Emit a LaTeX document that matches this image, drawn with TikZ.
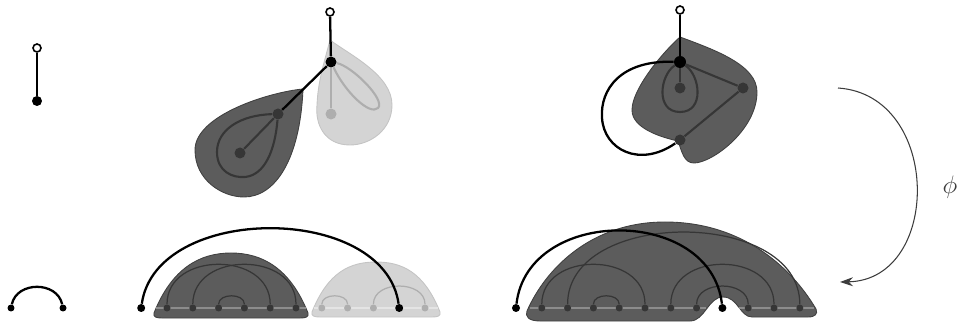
\documentclass[tikz,border=0pt]{standalone}
\usepackage{tikz}
\usetikzlibrary{arrows.meta}
\definecolor{blobdark}{RGB}{92,92,92}
\definecolor{blobdarkrim}{RGB}{64,64,64}
\definecolor{inkdark}{RGB}{54,54,54}
\definecolor{bloblight}{RGB}{212,212,212}
\definecolor{bloblightrim}{RGB}{196,196,196}
\definecolor{inklight}{RGB}{174,174,174}
\definecolor{rimdark}{RGB}{140,140,140}
\definecolor{rimlight}{RGB}{228,228,228}
\definecolor{mapgray}{RGB}{60,60,60}
\tikzset{
  root/.style={circle,draw=black,fill=white,line width=0.9pt,inner sep=0pt,minimum size=0.16cm},
  bigdot/.style={circle,fill=black,inner sep=0pt,minimum size=0.22cm},
  darkdot/.style={circle,fill=inkdark,inner sep=0pt,minimum size=0.22cm},
  lightdot/.style={circle,fill=inklight,inner sep=0pt,minimum size=0.22cm},
  seqdot/.style={circle,fill=inkdark,inner sep=0pt,minimum size=0.14cm},
  seqlight/.style={circle,fill=inklight,inner sep=0pt,minimum size=0.14cm},
  seqblack/.style={circle,fill=black,inner sep=0pt,minimum size=0.16cm},
  darkblob/.style={fill=blobdark,draw=blobdarkrim,line width=0.5pt},
  lightblob/.style={fill=bloblight,draw=bloblightrim,line width=0.5pt},
  stem/.style={black,line width=1.3pt},
  darkedge/.style={inkdark,line width=1.2pt},
  lightedge/.style={inklight,line width=1.2pt},
  darkarc/.style={inkdark,line width=0.7pt},
  lightarc/.style={inklight,line width=0.7pt},
  mapto/.style={-{Stealth[length=2.6mm,width=1.8mm]},mapgray,line width=0.6pt}
}
\begin{document}
\begin{tikzpicture}[x=0.02cm,y=-0.02cm]
  \useasboundingbox (0,0) rectangle (959,327);

  % single edge
  \node[root] (r0) at (37,48) {};
  \node[bigdot, minimum size=0.2cm] (v0) at (37,101) {};
  \draw[stem] (r0) -- (v0);

  \node[seqblack, minimum size=0.14cm] (a1) at (11,308) {};
  \node[seqblack, minimum size=0.14cm] (a2) at (63,308) {};
  \draw[stem] (a1) .. controls +(6,-27) and +(-6,-27) .. (a2);

  % two leaves on one vertex
  \draw[lightblob] (330,40) .. controls (350,55) and (392,75) .. (392,105)
    .. controls (392,130) and (370,145) .. (350,145)
    .. controls (325,145) and (315,125) .. (317,105)
    .. controls (318,80) and (325,60) .. (330,40) -- cycle;
  \draw[darkblob] (303,89) .. controls (270,92) and (195,115) .. (195,150)
    .. controls (195,180) and (222,197) .. (244,197)
    .. controls (275,197) and (300,160) .. (303,89) -- cycle;
  \node[root] (r1) at (330,12) {};
  \node[bigdot] (b0) at (331,62) {};
  \node[darkdot] (d1) at (278,114) {};
  \node[darkdot] (d2) at (240,153) {};
  \node[lightdot] (g1) at (331,114) {};
  \draw[stem] (r1) -- (b0);
  \draw[stem] (b0) -- (d1);
  \draw[darkedge] (d1) -- (d2);
  \draw[darkedge] (d1) .. controls (240,115) and (217,130) .. (217,152)
    .. controls (217,172) and (233,178) .. (245,177)
    .. controls (265,175) and (275,150) .. (d1);
  \draw[lightedge] (b0) -- (g1);
  \draw[lightedge] (b0) .. controls (352,66) and (386,100) .. (378,108)
    .. controls (370,116) and (345,92) .. (b0);

  % merged map
  \draw[darkblob] (680,37) .. controls (660,55) and (632,90) .. (632,110)
    .. controls (632,128) and (660,137) .. (678,141)
    .. controls (682,152) and (684,163) .. (694,163)
    .. controls (712,163) and (757,130) .. (757,92)
    .. controls (757,65) and (715,50) .. (680,37) -- cycle;
  \node[root] (r2) at (680,10) {};
  \node[bigdot, minimum size=0.24cm] (c0) at (680,62) {};
  \node[darkdot] (c1) at (680,88) {};
  \node[darkdot] (c2) at (743,88) {};
  \node[darkdot] (c3) at (680,140) {};
  \draw[stem] (r2) -- (c0);
  \draw[darkedge] (c0) -- (c1);
  \draw[darkedge] (c0) -- (c2);
  \draw[darkedge] (c2) -- (c3);
  \draw[darkedge] (c0) .. controls (660,75) and (655,112) .. (680,112)
    .. controls (705,112) and (700,75) .. (c0);
  \draw[stem] (c0) .. controls (620,60) and (600,90) .. (602,118)
    .. controls (604,150) and (640,168) .. (c3);

  % arc diagrams
  \draw[darkblob] (154,313) .. controls (172,268) and (200,253) .. (231,253)
    .. controls (262,253) and (290,268) .. (308,313)
    .. controls (309,317) and (306,318) .. (300,318) -- (162,318)
    .. controls (156,318) and (153,317) .. (154,313) -- cycle;
  \draw[lightblob] (312,312) .. controls (328,272) and (350,262) .. (376,262)
    .. controls (402,262) and (424,272) .. (440,312)
    .. controls (441,316) and (438,317) .. (432,317) -- (320,317)
    .. controls (314,317) and (311,316) .. (312,312) -- cycle;
  \draw[darkblob] (527,311) .. controls (545,270) and (590,222) .. (665,222)
    .. controls (740,222) and (790,265) .. (816,309)
    .. controls (818,314) and (815,317) .. (808,317) -- (752,317)
    .. controls (740,317) and (738,297) .. (723,297)
    .. controls (708,297) and (705,321) .. (690,321) -- (540,321)
    .. controls (528,321) and (525,316) .. (527,311) -- cycle;
  \draw[rimdark, line width=0.6pt] (156,308) -- (306,308);
  \draw[rimlight, line width=0.6pt] (314,308) -- (438,308);
  \draw[rimdark, line width=0.6pt] (530,308) -- (706,308);
  \draw[rimdark, line width=0.6pt] (739,308) -- (814,308);

  \foreach \i in {1,...,6}
    \node[seqdot] (s\i) at (141.2+25.8*\i,308) {};
  \foreach \i in {7,8,9,11}
    \node[seqlight] (s\i) at (141.2+25.8*\i,308) {};
  \node[seqblack] (s0) at (141.2,308) {};
  \node[seqblack] (s10) at (399.2,308) {};
  \foreach \i in {1,...,7,9,10,11}
    \node[seqdot] (t\i) at (516+25.8*\i,308) {};
  \node[seqblack] (t0) at (516,308) {};
  \node[seqblack] (t8) at (722.4,308) {};

  \draw[darkarc] (s1) .. controls +(0,-57) and +(0,-57) .. (s5);
  \draw[darkarc] (s2) .. controls +(0,-57) and +(0,-57) .. (s6);
  \draw[darkarc] (s3) .. controls +(0,-15) and +(0,-15) .. (s4);
  \draw[lightarc] (s7) .. controls +(0,-15) and +(0,-15) .. (s8);
  \draw[lightarc] (s9) .. controls +(0,-28) and +(0,-28) .. (s11);
  \draw[stem] (s0) .. controls +(15,-105) and +(-15,-105) .. (s10);

  \draw[darkarc] (t1) .. controls +(0,-57) and +(0,-57) .. (t5);
  \draw[darkarc] (t2) .. controls +(0,-100) and +(0,-100) .. (t11);
  \draw[darkarc] (t3) .. controls +(0,-15) and +(0,-15) .. (t4);
  \draw[darkarc] (t6) .. controls +(0,-57) and +(0,-57) .. (t10);
  \draw[darkarc] (t7) .. controls +(0,-28) and +(0,-28) .. (t9);
  \draw[stem] (t0) .. controls +(12,-102) and +(-12,-102) .. (t8);

  % the map
  \coordinate (mapfrom) at (838,88);
  \coordinate (mapto) at (840,282);
  \draw[mapto] (mapfrom) .. controls (942,95) and (942,280) .. (mapto);
  \node[mapgray, font=\Large] (phi) at (950,187) {$\phi$};
\end{tikzpicture}
\end{document}
